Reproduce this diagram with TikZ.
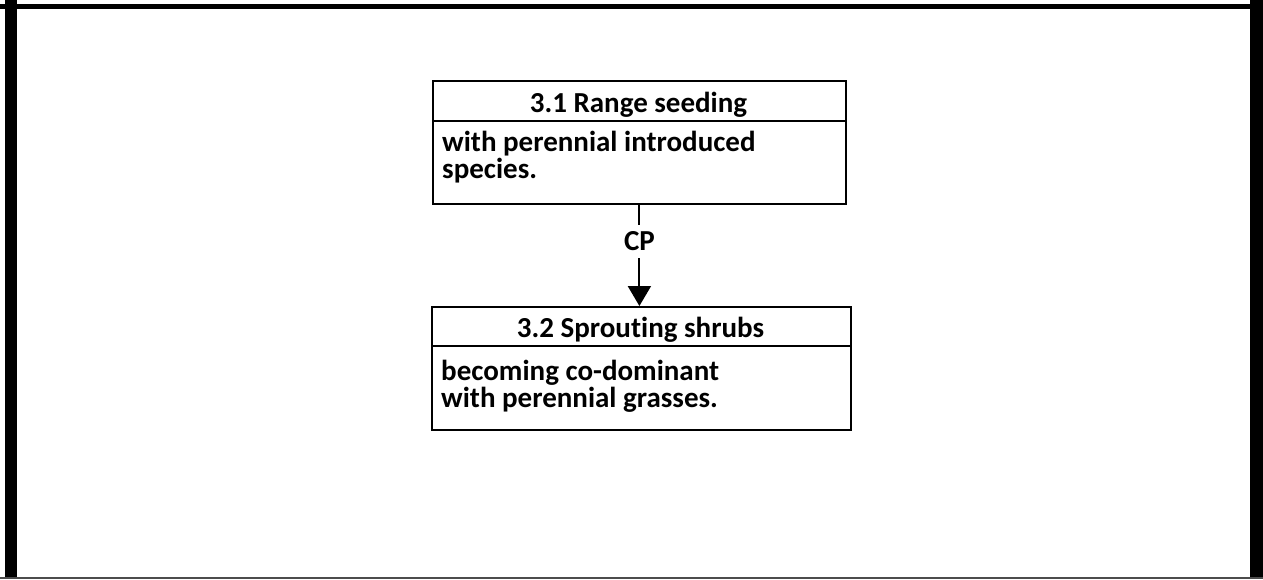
\documentclass[tikz,border=0pt]{standalone}
\usepackage{fontspec}
\setmainfont{Carlito}[Ligatures=CommonOff]
\usetikzlibrary{arrows.meta}
\begin{document}
\begin{tikzpicture}[x=1pt,y=-1pt,
  box/.style={draw=black, line width=1.8pt, rectangle, inner sep=0pt, anchor=north west},
  txt/.style={font=\bfseries\fontsize{29}{27}\selectfont, inner sep=0pt},
  frame/.style={line width=#1, black}]
\useasboundingbox (0,0) rectangle (1263,579);
\fill[white] (0,0) rectangle (1263,579);
% outer frame
\draw[frame=5pt] (0,6) -- (1263,6);
\draw[frame=12pt] (11,0) -- (11,579);
\draw[frame=13pt] (1256.5,0) -- (1256.5,579);
\draw[frame=2pt, black!70] (0,578) -- (1263,578);
% box 1
\node[box, minimum width=413pt, minimum height=123pt] (b1) at (432,80) {};
\draw[line width=1.8pt] ([yshift=-41pt]b1.north west) -- ([yshift=-41pt]b1.north east);
\node[txt, anchor=base] (h1) at (638.5,112) {3.1 Range seeding};
\node[txt, anchor=base west, align=left] (t1) at (442,178) {with perennial introduced\\species.};
% box 2
\node[box, minimum width=419pt, minimum height=123pt] (b2) at (431,306) {};
\draw[line width=1.8pt] ([yshift=-40pt]b2.north west) -- ([yshift=-40pt]b2.north east);
\node[txt, anchor=base] (h2) at (640.5,337) {3.2 Sprouting shrubs};
\node[txt, anchor=base west, align=left] (t2) at (441,407) {becoming co-dominant\\with perennial grasses.};
% connector
\draw[line width=2pt, -{Triangle[width=23pt,length=20pt]}] (b1.south) -- node[pos=0.36, fill=white, txt, inner xsep=3pt, inner ysep=7pt] (cp) {CP} (b1.south |- b2.north);
\end{tikzpicture}
\end{document}
